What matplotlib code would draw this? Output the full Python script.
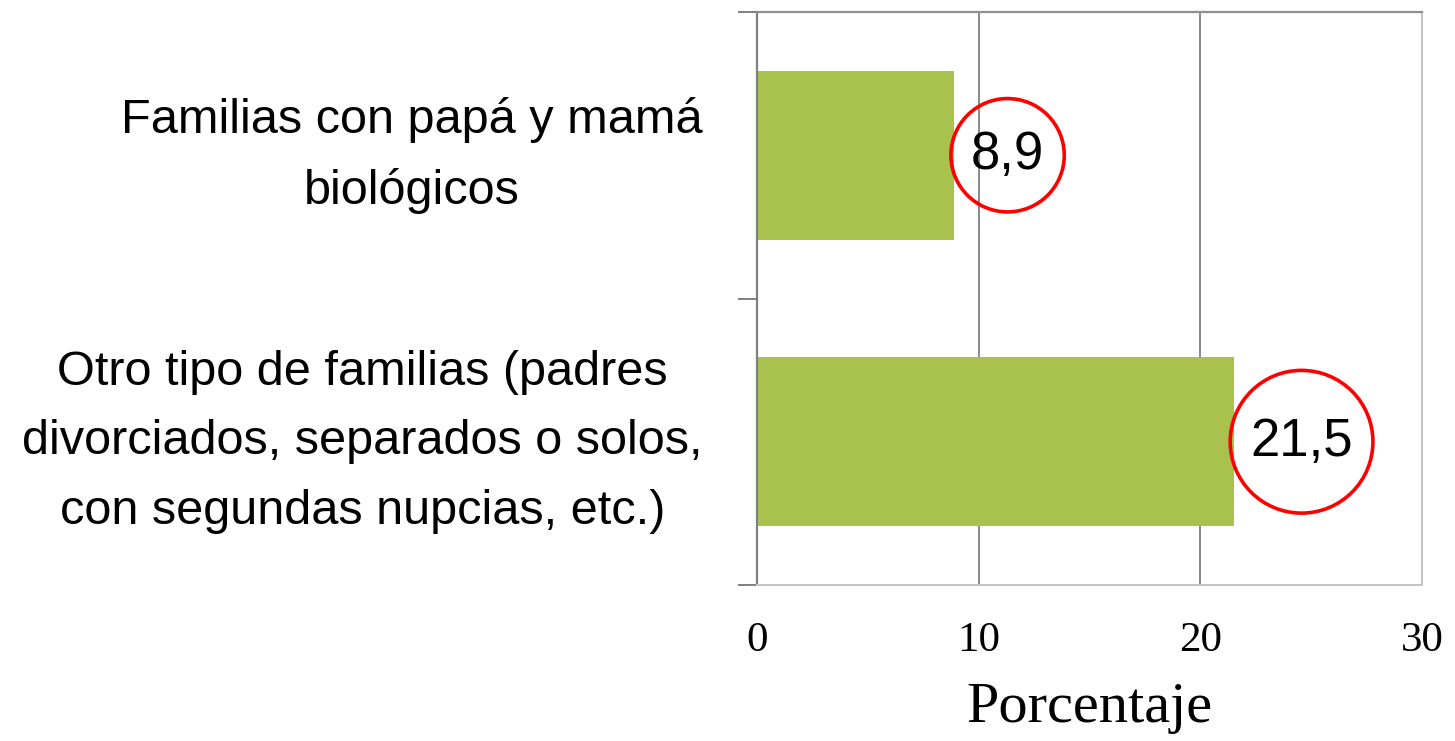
import matplotlib.pyplot as plt

categories = ['Familias con papá y mamá\nbiológicos',
              'Otro tipo de familias (padres\ndivorciados, separados o solos,\ncon segundas nupcias, etc.)']
values = [8.9, 21.5]
value_labels = ['8,9', '21,5']
x_ticks = [0, 10, 20, 30]

fig = plt.figure(figsize=(14.55, 7.41), dpi=100)
ax = fig.add_axes([757/1455, 1-585/741, 665/1455, 573/741])

pos = list(range(len(categories)))
ax.barh(pos, values, height=0.59, color='#A9C24E')
ax.set_xlim(0, 30)
ax.set_ylim(1.5, -0.5)
ax.set_axisbelow(True)
ax.xaxis.grid(True, color='#808080', lw=1.3)

# category labels
ax.set_yticks(pos)
ax.set_yticklabels(categories, fontsize=35, family='Liberation Sans')
ax.set_yticks([-0.5, 0.5, 1.5], minor=True)
ax.tick_params(axis='y', which='major', length=0, pad=39)
ax.tick_params(axis='y', which='minor', length=14, width=1.4, color='#808080')
plt.setp(ax.get_yticklabels(), multialignment='center', linespacing=1.7, va='center')

ax.set_xticks(x_ticks)
ax.set_xticklabels([str(t) for t in x_ticks], fontsize=31, family='Liberation Serif')
ax.tick_params(axis='x', length=0, pad=26)
ax.set_xlabel('Porcentaje', fontsize=42, family='Liberation Serif', labelpad=16)

ax.spines['left'].set_color('#808080')
ax.spines['left'].set_linewidth(1.6)
ax.spines['top'].set_color('#909090')
ax.spines['top'].set_linewidth(1.6)
ax.spines['right'].set_color('#c4c4c4')
ax.spines['right'].set_linewidth(1.4)
ax.spines['bottom'].set_color('#c4c4c4')
ax.spines['bottom'].set_linewidth(1.4)

for p, v, lab in zip(pos, values, value_labels):
    ax.annotate(lab, (v, p), xytext=(12, 0), textcoords='offset points',
                ha='left', va='center', fontsize=38, family='Liberation Sans',
                bbox=dict(boxstyle='circle,pad=0.38', fc='none', ec='red', lw=2.6))

fig.savefig('out.png', dpi=100)
